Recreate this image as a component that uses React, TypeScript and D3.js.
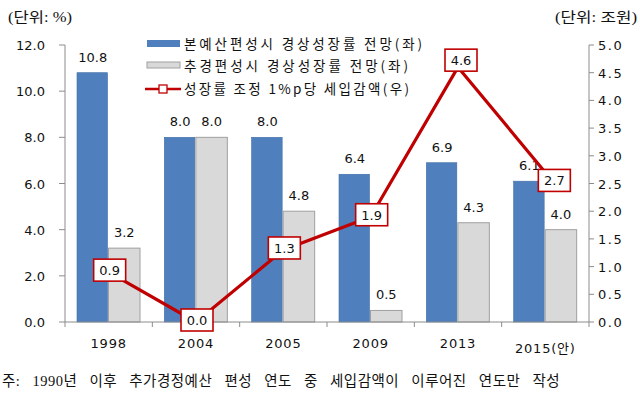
import React from "react";
import * as d3 from "d3";

const categories = ["1998", "2004", "2005", "2009", "2013", "2015(안)"];
const baseGrowth = [10.8, 8.0, 8.0, 6.4, 6.9, 6.1];
const suppGrowth = [3.2, 8.0, 4.8, 0.5, 4.3, 4.0];
const revenueCut = [0.9, 0.0, 1.3, 1.9, 4.6, 2.7];
const leftTicks = [0, 2, 4, 6, 8, 10, 12];
const rightTicks = [0, 0.5, 1, 1.5, 2, 2.5, 3, 3.5, 4, 4.5, 5];
const seriesNames = [
  "본예산편성시 경상성장률 전망(좌)",
  "추경편성시 경상성장률 전망(좌)",
  "성장률 조정 1%p당 세입감액(우)",
];
const leftUnit = "(단위: %)";
const rightUnit = "(단위: 조원)";
const footnote = "주: 1990년 이후 추가경정예산 편성 연도 중 세입감액이 이루어진 연도만 작성";

const W = 640;
const H = 396;
const BLUE = "#4f80bd";
const GREY = "#d9d9d9";
const RED = "#c00000";
const AXIS = "#8c8c8c";
const NUM_FONT = "'DejaVu Sans', Verdana, sans-serif";
const KR_FONT = "'Noto Sans CJK KR', sans-serif";
const SERIF = "'Liberation Serif', 'Noto Sans CJK KR', serif";

export default function App() {
  const x = d3.scaleBand<string>().domain(categories).range([65, 589]).padding(0);
  const inner = d3.scaleBand<string>().domain(["a", "b"]).range([12, 75]).padding(0);
  const yL = d3.scaleLinear().domain([0, 12]).range([322, 45]);
  const yR = d3.scaleLinear().domain([0, 5]).range([322, 45]);
  const bw = inner.bandwidth();
  const line = d3
    .line<number>()
    .x((_, i) => (x(categories[i]) as number) + x.bandwidth() / 2)
    .y((d) => yR(d));
  const labelOffset = (i: number) =>
    i === revenueCut.length - 1 ? [9, 8] : i === 4 ? [3, -7] : [1, -2];

  return (
    <svg
      width={W}
      height={H}
      style={{ position: "absolute", left: 0, top: 0, background: "#fff" }}
    >
      <rect x={0} y={0} width={W} height={H} fill="#fff" />
      {/* unit labels */}
      <text x={8} y={22} fontFamily={SERIF} fontSize={14} fill="#111" textLength={64} lengthAdjust="spacingAndGlyphs">
        {leftUnit}
      </text>
      <text x={555} y={22} fontFamily={SERIF} fontSize={14} fill="#111" textLength={82} lengthAdjust="spacingAndGlyphs">
        {rightUnit}
      </text>

      {/* bars */}
      {categories.map((c, i) => {
        const x0 = x(c) as number;
        return (
          <g key={c}>
            <rect
              x={x0 + (inner("a") as number)}
              y={yL(baseGrowth[i])}
              width={bw - 1}
              height={yL(0) - yL(baseGrowth[i])}
              fill={BLUE}
              stroke="#3e6ea8"
              strokeWidth={0.6}
            />
            <rect
              x={x0 + (inner("b") as number)}
              y={yL(suppGrowth[i])}
              width={bw}
              height={yL(0) - yL(suppGrowth[i])}
              fill={GREY}
              stroke="#a0a0a0"
              strokeWidth={1}
            />
            <text
              x={x0 + (inner("a") as number) + bw / 2}
              y={yL(baseGrowth[i]) - 11}
              textAnchor="middle"
              fontFamily={NUM_FONT}
              fontSize={13}
              fill="#111"
            >
              {baseGrowth[i].toFixed(1)}
            </text>
            <text
              x={x0 + (inner("b") as number) + bw / 2}
              y={yL(suppGrowth[i]) - 11}
              textAnchor="middle"
              fontFamily={NUM_FONT}
              fontSize={13}
              fill="#111"
            >
              {suppGrowth[i].toFixed(1)}
            </text>
          </g>
        );
      })}

      {/* axes */}
      <line x1={65} x2={65} y1={45} y2={322} stroke={AXIS} strokeWidth={1} />
      <line x1={589} x2={589} y1={45} y2={322} stroke={AXIS} strokeWidth={1} />
      <line x1={65} x2={589} y1={322} y2={322} stroke={AXIS} strokeWidth={1} />
      {leftTicks.map((t) => (
        <g key={"l" + t}>
          <line x1={59} x2={65} y1={yL(t)} y2={yL(t)} stroke={AXIS} />
          <text
            x={45}
            y={yL(t) + 5}
            textAnchor="end"
            fontFamily={NUM_FONT}
            fontSize={13}
            fill="#111"
          >
            {t.toFixed(1)}
          </text>
        </g>
      ))}
      {rightTicks.map((t) => (
        <g key={"r" + t}>
          <line x1={589} x2={594} y1={yR(t)} y2={yR(t)} stroke={AXIS} />
          <text
            x={598}
            y={yR(t) + 5}
            textAnchor="start"
            fontFamily={NUM_FONT}
            fontSize={13}
            letterSpacing={1.5}
            fill="#111"
          >
            {t.toFixed(1)}
          </text>
        </g>
      ))}
      {categories.map((c) => (
        <line
          key={"xt" + c}
          x1={x(c) as number}
          x2={x(c) as number}
          y1={322}
          y2={327}
          stroke={AXIS}
        />
      ))}
      <line x1={589} x2={589} y1={322} y2={327} stroke={AXIS} />
      {categories.map((c, i) => (
        <text
          key={"xl" + c}
          x={(x(c) as number) + x.bandwidth() / 2}
          y={i === categories.length - 1 ? 353 : 348}
          textAnchor="middle"
          fontFamily={`'DejaVu Sans', ${KR_FONT}`}
          fontSize={13}
          letterSpacing={0.8}
          fill="#111"
        >
          {c}
        </text>
      ))}

      {/* line series */}
      <path d={line(revenueCut) || ""} fill="none" stroke={RED} strokeWidth={3.2} strokeLinejoin="round" />
      {revenueCut.map((v, i) => {
        const cx = (x(categories[i]) as number) + x.bandwidth() / 2;
        const cy = yR(v);
        const [dx, dy] = labelOffset(i);
        return (
          <g key={"lab" + i}>
            <rect
              x={cx + dx - 16}
              y={cy + dy - 11}
              width={32}
              height={22}
              fill="#fff"
              stroke={RED}
              strokeWidth={1.6}
            />
            <text
              x={cx + dx}
              y={cy + dy + 5}
              textAnchor="middle"
              fontFamily={NUM_FONT}
              fontSize={13}
              fill="#111"
            >
              {v.toFixed(1)}
            </text>
          </g>
        );
      })}

      {/* legend */}
      <rect x={147} y={40} width={33} height={7} fill={BLUE} />
      <rect x={147} y={62} width={33} height={6} fill={GREY} stroke="#a0a0a0" />
      <line x1={145} x2={181} y1={89} y2={89} stroke={RED} strokeWidth={2.5} />
      <rect x={159} y={85} width={8} height={8} fill="#fff" stroke={RED} strokeWidth={1.3} />
      {seriesNames.map((s, i) => (
        <text
          key={s}
          x={184}
          y={[49, 71, 94][i]}
          fontFamily={KR_FONT}
          fontSize={13.5}
          fill="#111"
          textLength={[238, 224, 225][i]}
          lengthAdjust="spacing"
        >
          {s}
        </text>
      ))}

      {/* footnote */}
      <text
        x={2}
        y={386}
        fontFamily={SERIF}
        fontSize={14.5}
        fill="#111"
        wordSpacing={8}
        letterSpacing={0.5}
      >
        {footnote}
      </text>
    </svg>
  );
}
